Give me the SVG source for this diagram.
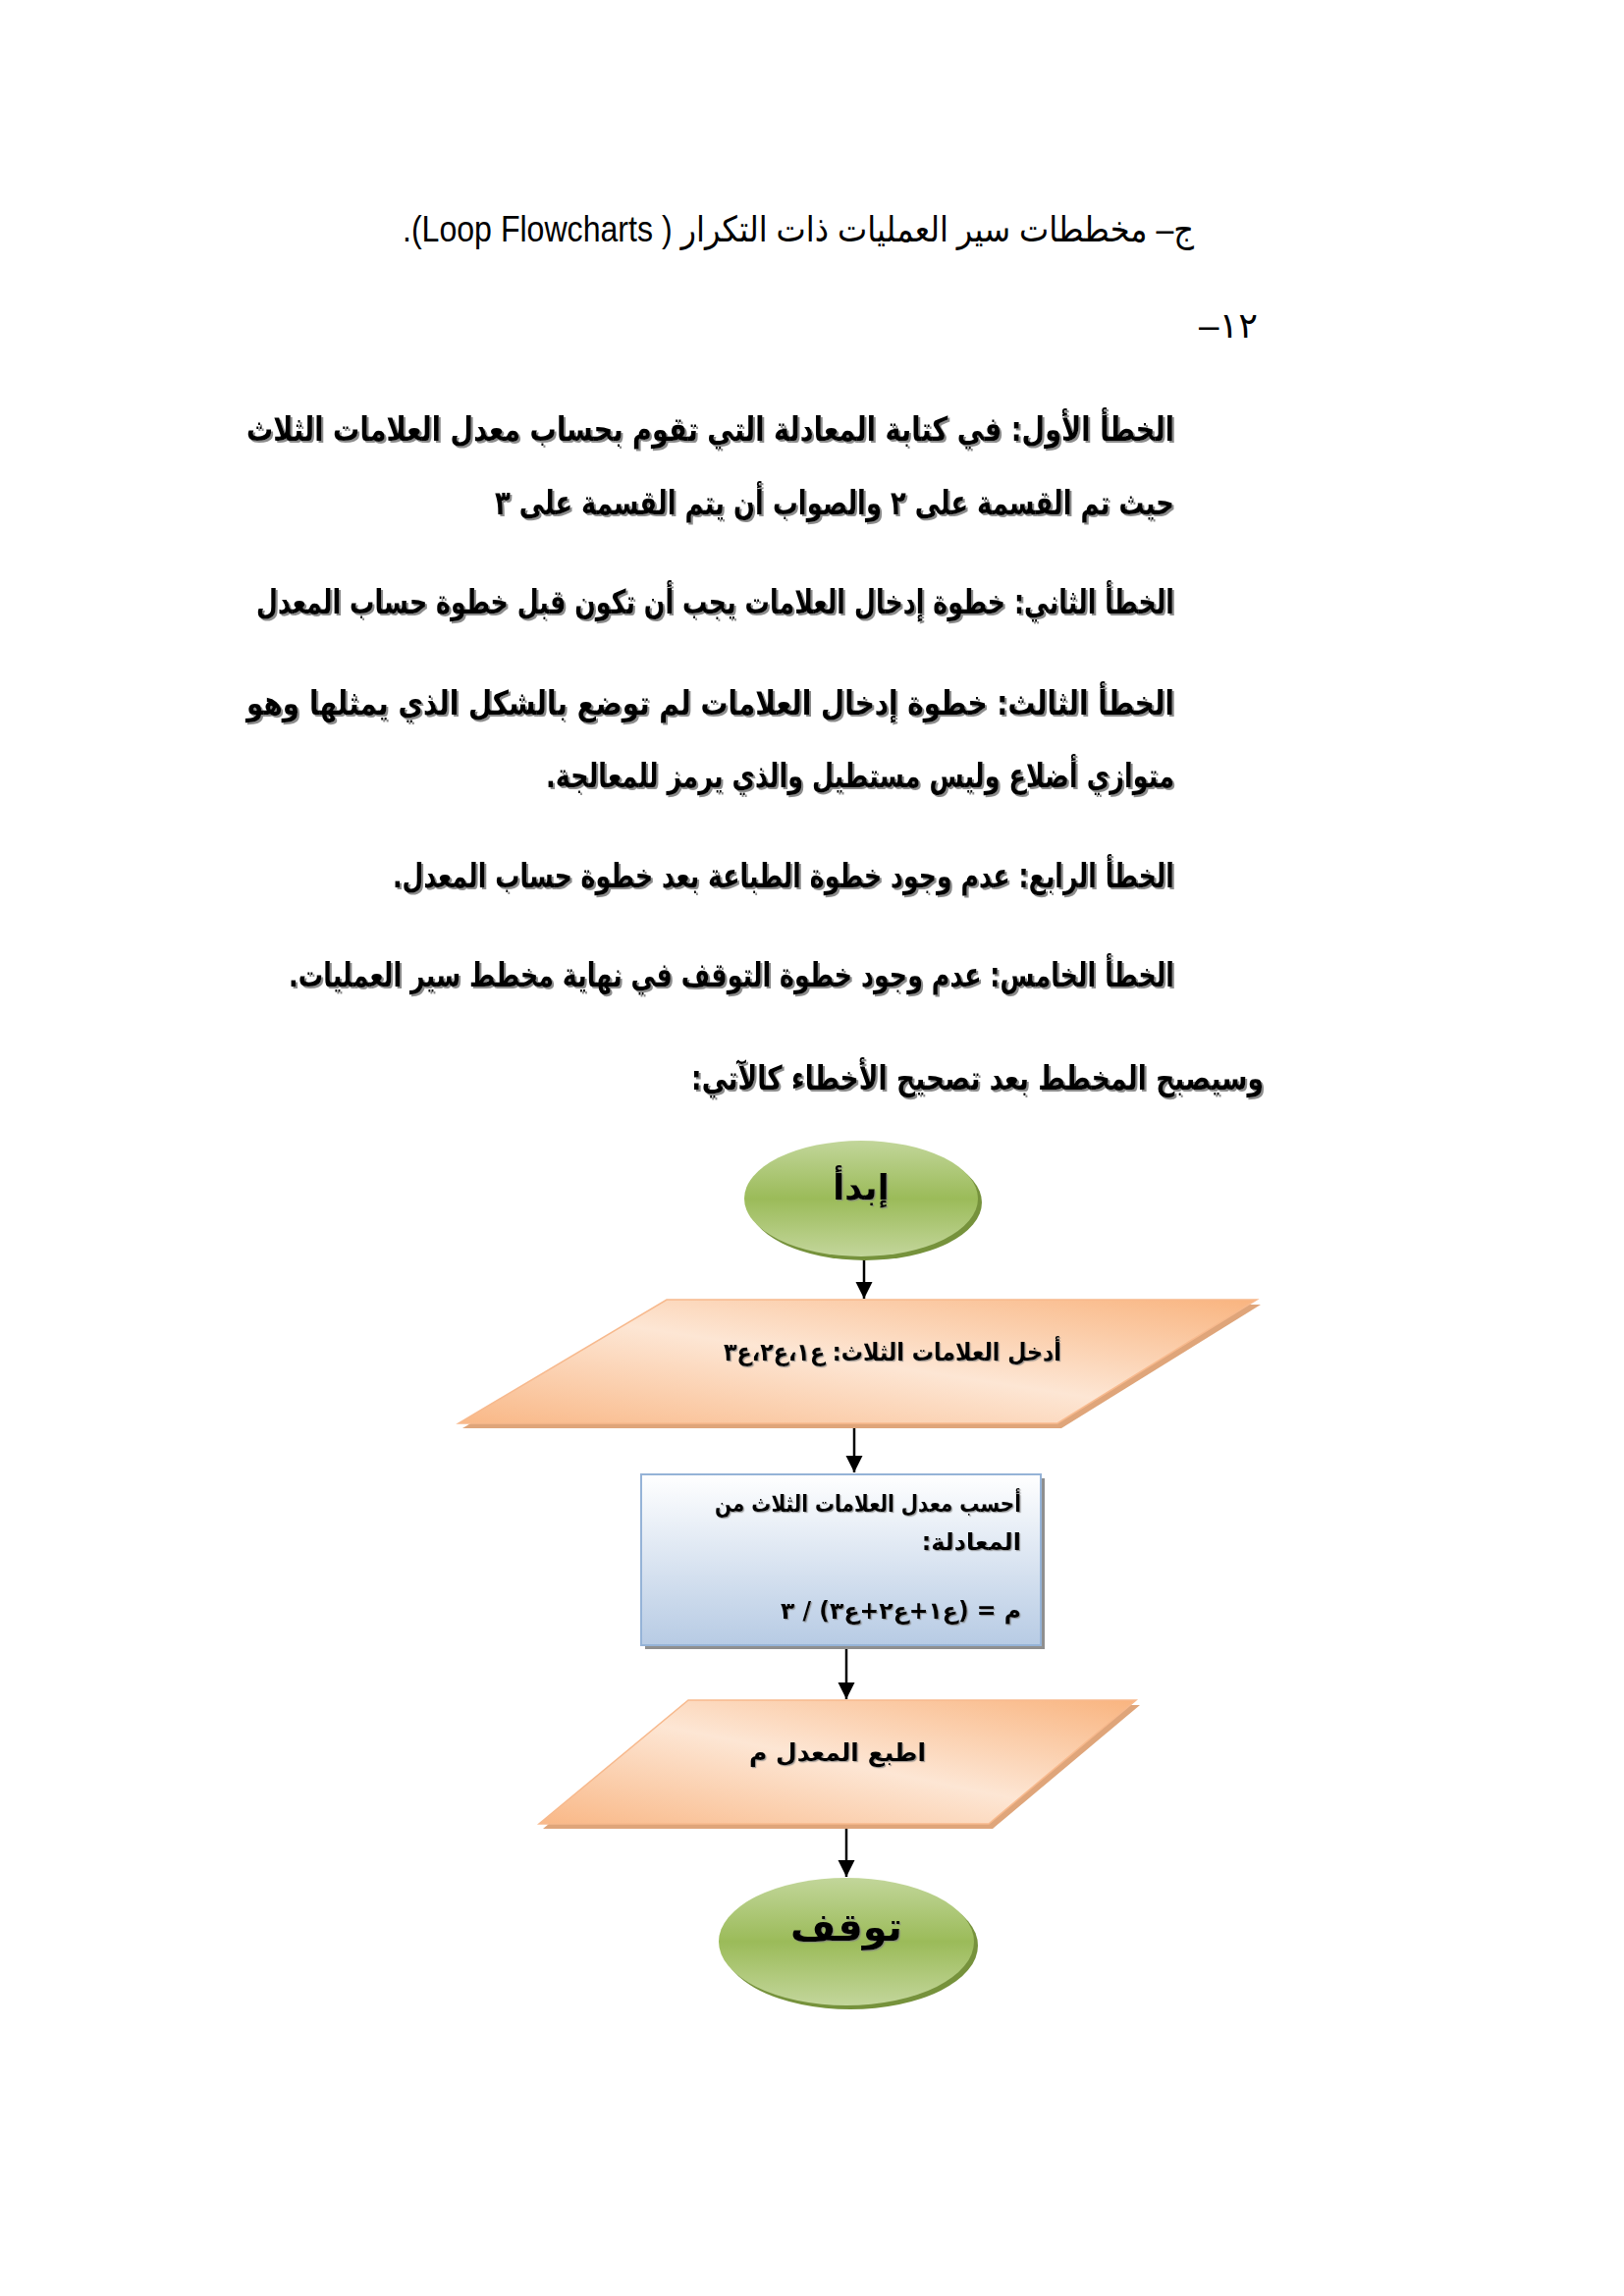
<svg xmlns="http://www.w3.org/2000/svg" width="1654" height="2339" viewBox="0 0 1654 2339">
<defs>
<style>
.reg{font-family:"Liberation Sans","DejaVu Sans",sans-serif;font-size:36px;fill:#000}
.b{font-family:"DejaVu Sans",sans-serif;font-weight:bold;font-size:34px;fill:#000;filter:url(#ts)}
.nt{font-family:"DejaVu Sans",sans-serif;font-weight:bold;fill:#000;filter:url(#ts2)}
.arrow{stroke:#000;stroke-width:2.5;fill:none;marker-end:url(#ah)}
</style>
<filter id="ts" x="-5%" y="-30%" width="110%" height="160%">
<feDropShadow dx="2" dy="2" stdDeviation="0.7" flood-color="#7f7f7f" flood-opacity="0.9"/>
</filter>
<filter id="ts2" x="-5%" y="-30%" width="110%" height="160%">
<feDropShadow dx="1.2" dy="1.2" stdDeviation="0.5" flood-color="#7f7f7f" flood-opacity="0.7"/>
</filter>
<marker id="ah" viewBox="0 0 10 10" refX="10" refY="5" markerWidth="7" markerHeight="7" markerUnits="strokeWidth" orient="auto">
<path d="M0,0 L10,5 L0,10 z" fill="#000"/>
</marker>
<linearGradient id="gGreen" x1="0" y1="0" x2="0" y2="1">
<stop offset="0" stop-color="#c2d69a"/>
<stop offset="0.5" stop-color="#9bbb59"/>
<stop offset="1" stop-color="#c3d69b"/>
</linearGradient>
<linearGradient id="gOrange" x1="1" y1="0" x2="0" y2="1">
<stop offset="0" stop-color="#f9b47f"/>
<stop offset="0.5" stop-color="#fde6d4"/>
<stop offset="1" stop-color="#f9b887"/>
</linearGradient>
<linearGradient id="gBlue" x1="0" y1="0" x2="0" y2="1">
<stop offset="0" stop-color="#ffffff"/>
<stop offset="1" stop-color="#b7cbe4"/>
</linearGradient>
</defs>
<rect width="1654" height="2339" fill="#fff"/>

<g id="text">
<text class="reg" x="1216" y="246" direction="rtl" text-anchor="start" textLength="806" lengthAdjust="spacingAndGlyphs">ج– مخططات سير العمليات ذات التكرار ( Loop Flowcharts).</text>
<text class="reg" x="1281" y="344" font-size="40" direction="rtl" text-anchor="start" textLength="60" lengthAdjust="spacingAndGlyphs">١٢–</text>
<text class="b" x="1196" y="449" direction="rtl" text-anchor="start" textLength="945" lengthAdjust="spacingAndGlyphs">الخطأ الأول: في كتابة المعادلة التي تقوم بحساب معدل العلامات الثلاث</text>
<text class="b" x="1196" y="524" direction="rtl" text-anchor="start" textLength="692" lengthAdjust="spacingAndGlyphs">حيث تم القسمة على ٢ والصواب أن يتم القسمة على ٣</text>
<text class="b" x="1196" y="625" direction="rtl" text-anchor="start" textLength="935" lengthAdjust="spacingAndGlyphs">الخطأ الثاني: خطوة إدخال العلامات يجب أن تكون قبل خطوة حساب المعدل</text>
<text class="b" x="1196" y="728" direction="rtl" text-anchor="start" textLength="945" lengthAdjust="spacingAndGlyphs">الخطأ الثالث: خطوة إدخال العلامات لم توضع بالشكل الذي يمثلها وهو</text>
<text class="b" x="1196" y="802" direction="rtl" text-anchor="start" textLength="640" lengthAdjust="spacingAndGlyphs">متوازي أضلاع وليس مستطيل والذي يرمز للمعالجة.</text>
<text class="b" x="1196" y="904" direction="rtl" text-anchor="start" textLength="796" lengthAdjust="spacingAndGlyphs">الخطأ الرابع: عدم وجود خطوة الطباعة بعد خطوة حساب المعدل.</text>
<text class="b" x="1196" y="1005" direction="rtl" text-anchor="start" textLength="902" lengthAdjust="spacingAndGlyphs">الخطأ الخامس: عدم وجود خطوة التوقف في نهاية مخطط سير العمليات.</text>
<text class="b" x="1287" y="1110" direction="rtl" text-anchor="start" textLength="583" lengthAdjust="spacingAndGlyphs">وسيصبح المخطط بعد تصحيح الأخطاء كالآتي:</text>
</g>

<g id="connectors">
<line class="arrow" x1="880" y1="1281" x2="880" y2="1323"/>
<line class="arrow" x1="870" y1="1451" x2="870" y2="1500"/>
<line class="arrow" x1="862" y1="1677" x2="862" y2="1731"/>
<line class="arrow" x1="862" y1="1859" x2="862" y2="1912"/>
</g>

<g id="start">
<ellipse cx="881" cy="1225" rx="119" ry="59" fill="#76923c"/>
<ellipse cx="877" cy="1221" rx="119" ry="59" fill="url(#gGreen)"/>
<text class="nt" x="877" y="1222" font-size="35" text-anchor="middle">إبدأ</text>
</g>

<g id="input">
<polygon points="683,1329 1284,1329 1081,1455 471,1455" fill="#dfa57a"/>
<polygon points="679,1324 1280,1324 1077,1450 467,1450" fill="url(#gOrange)" stroke="#f7b98d" stroke-width="1.5"/>
<text class="nt" x="1081" y="1386" font-size="25" direction="rtl" text-anchor="start" textLength="344" lengthAdjust="spacingAndGlyphs">أدخل العلامات الثلاث: ع١،ع٢،ع٣</text>
</g>

<g id="process">
<rect x="657" y="1506" width="407" height="174" fill="#8f8f8f"/>
<rect x="653" y="1502" width="407" height="174" fill="url(#gBlue)" stroke="#95b3d7" stroke-width="2"/>
<text class="nt" x="1040" y="1540" font-size="24" direction="rtl" text-anchor="start" textLength="312" lengthAdjust="spacingAndGlyphs">أحسب معدل العلامات الثلاث من</text>
<text class="nt" x="1040" y="1579" font-size="24" direction="rtl" text-anchor="start">المعادلة:</text>
<text class="nt" x="1040" y="1649" font-size="24" direction="rtl" text-anchor="start" textLength="245" lengthAdjust="spacingAndGlyphs">م = (ع١+ع٢+ع٣) / ٣</text>
</g>

<g id="output">
<polygon points="705,1737 1161,1737 1011,1863 553,1863" fill="#dfa57a"/>
<polygon points="701,1732 1157,1732 1007,1858 549,1858" fill="url(#gOrange)" stroke="#f7b98d" stroke-width="1.5"/>
<text class="nt" x="853" y="1794" font-size="25" text-anchor="middle">اطبع المعدل م</text>
</g>

<g id="stop">
<ellipse cx="866" cy="1982" rx="130" ry="65" fill="#76923c"/>
<ellipse cx="862" cy="1978" rx="130" ry="65" fill="url(#gGreen)"/>
<text class="nt" x="862" y="1977" font-size="40" text-anchor="middle">توقف</text>
</g>
</svg>
